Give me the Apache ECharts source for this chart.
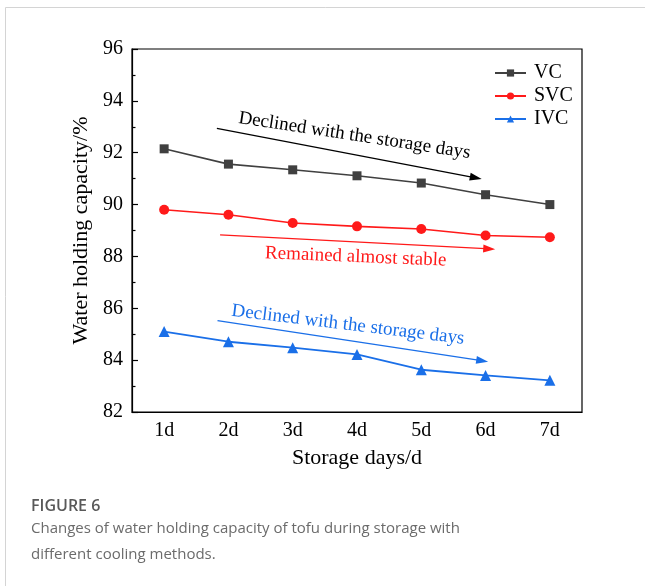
<!DOCTYPE html>
<html>
<head>
<meta charset="utf-8">
<script src="https://cdn.jsdelivr.net/npm/echarts@6/dist/echarts.min.js"></script>
<style>
  html, body { margin: 0; padding: 0; background: #fff; }
  #chart { width: 645px; height: 586px; }
</style>
</head>
<body>
<div id="chart"></div>
<script>
// Storage days on the x axis
const days = ['1d', '2d', '3d', '4d', '5d', '6d', '7d'];

// Water holding capacity (%) for each cooling method
const vcValues  = [92.15, 91.56, 91.34, 91.11, 90.83, 90.38, 90.00];
const svcValues = [89.80, 89.61, 89.29, 89.16, 89.06, 88.81, 88.74];
const ivcValues = [85.10, 84.71, 84.48, 84.22, 83.63, 83.41, 83.22];

// y axis range and step
const yMin = 82, yMax = 96, yStep = 2;

// Trend notes: arrow start/end in (day, %) units plus the text beside it
const notes = [
  { text: 'Declined with the storage days', color: '#000000',
    from: [1.82, 92.94], to: [5.94, 90.99], at: [3.96, 92.66] },
  { text: 'Remained almost stable', color: '#ff1a1a',
    from: [1.87, 88.83], to: [6.15, 88.28], at: [3.98, 87.98] },
  { text: 'Declined with the storage days', color: '#1a6fe8',
    from: [1.83, 85.52], to: [6.04, 83.94], at: [3.86, 85.36] }
];

const caption = {
  title: 'FIGURE 6',
  lines: ['Changes of water holding capacity of tofu during storage with',
          'different cooling methods.']
};

const serif = '"Liberation Serif", "Times New Roman", serif';
const colors = { VC: '#404040', SVC: '#ff1a1a', IVC: '#1a6fe8' };

const chart = echarts.init(document.getElementById('chart'), null, { renderer: 'canvas' });

chart.setOption({
  animation: false,
  backgroundColor: '#ffffff',
  grid: {
    left: 132, right: 63, top: 49, bottom: 174,
    show: true, borderColor: '#000', borderWidth: 1.2, backgroundColor: 'transparent'
  },
  legend: {
    orient: 'vertical',
    left: 489, top: 58,
    itemWidth: 31, itemHeight: 9, itemGap: 3,
    textStyle: { fontFamily: serif, fontSize: 20, color: '#000', padding: [0, 0, 0, 3] },
    data: ['VC', 'SVC', 'IVC']
  },
  xAxis: [
    {
      type: 'category', data: days, boundaryGap: true,
      axisLine: { lineStyle: { color: '#000', width: 1.2 } },
      axisTick: { alignWithLabel: true, inside: true, length: 6, lineStyle: { color: '#000', width: 1.2 } },
      axisLabel: { fontFamily: serif, fontSize: 20, color: '#000', margin: 9 },
      splitLine: { show: false },
      name: 'Storage days/d', nameLocation: 'middle', nameGap: 35,
      nameTextStyle: { fontFamily: serif, fontSize: 22, color: '#000' }
    },
    {
      // half-step ticks between the days
      type: 'category', data: days, boundaryGap: true, position: 'bottom',
      axisLine: { show: false },
      axisTick: { inside: true, length: 3.5, lineStyle: { color: '#000', width: 1.2 } },
      axisLabel: { show: false },
      splitLine: { show: false }
    },
    {
      // continuous day scale used to place the trend notes
      type: 'value', min: 0.5, max: 7.5, show: false, splitLine: { show: false }
    }
  ],
  yAxis: {
    type: 'value', min: yMin, max: yMax, interval: yStep,
    axisLine: { show: true, lineStyle: { color: '#000', width: 1.2 } },
    axisTick: { show: true, inside: true, length: 6, lineStyle: { color: '#000', width: 1.2 } },
    minorTick: { show: true, splitNumber: 2, length: 3.5, lineStyle: { color: '#000', width: 1.2 } },
    axisLabel: { fontFamily: serif, fontSize: 20, color: '#000', margin: 9 },
    splitLine: { show: false },
    name: 'Water holding capacity/%', nameLocation: 'middle', nameGap: 37,
    nameTextStyle: { fontFamily: serif, fontSize: 22, color: '#000' }
  },
  series: [
    {
      name: 'VC', type: 'line', data: vcValues, xAxisIndex: 0,
      symbol: 'rect', symbolSize: 9,
      lineStyle: { color: colors.VC, width: 1.6 },
      itemStyle: { color: colors.VC }
    },
    {
      name: 'SVC', type: 'line', data: svcValues, xAxisIndex: 0,
      symbol: 'circle', symbolSize: 10,
      lineStyle: { color: colors.SVC, width: 1.6 },
      itemStyle: { color: colors.SVC }
    },
    {
      name: 'IVC', type: 'line', data: ivcValues, xAxisIndex: 0,
      symbol: 'triangle', symbolSize: 11,
      lineStyle: { color: colors.IVC, width: 1.8 },
      itemStyle: { color: colors.IVC }
    }
  ]
});

// Place the trend notes and the figure caption once the axes exist
function px(pt) {
  return [
    chart.convertToPixel({ xAxisIndex: 2 }, pt[0]),
    chart.convertToPixel({ yAxisIndex: 0 }, pt[1])
  ];
}

const elements = [];

// page frame
elements.push({ type: 'line', shape: { x1: 5.5, y1: 7.5, x2: 645, y2: 7.5 },
  style: { stroke: '#d4d4d4', lineWidth: 1 }, silent: true });
elements.push({ type: 'line', shape: { x1: 5.5, y1: 7.5, x2: 5.5, y2: 586 },
  style: { stroke: '#d4d4d4', lineWidth: 1 }, silent: true });

notes.forEach(function (n) {
  const a = px(n.from), b = px(n.to), c = px(n.at);
  const ang = Math.atan2(b[1] - a[1], b[0] - a[0]);
  const headLen = 12, headHalf = 4;
  const ux = Math.cos(ang), uy = Math.sin(ang);
  const baseX = b[0] - ux * headLen, baseY = b[1] - uy * headLen;
  elements.push({ type: 'line', silent: true,
    shape: { x1: a[0], y1: a[1], x2: baseX + ux * 2, y2: baseY + uy * 2 },
    style: { stroke: n.color, lineWidth: 1.3 } });
  elements.push({ type: 'polygon', silent: true,
    shape: { points: [
      [b[0], b[1]],
      [baseX - uy * headHalf, baseY + ux * headHalf],
      [baseX + uy * headHalf, baseY - ux * headHalf]
    ] },
    style: { fill: n.color } });
  const textAng = ang * 0.8;
  elements.push({ type: 'text', silent: true,
    x: c[0], y: c[1], rotation: -textAng,
    style: { text: n.text, fontFamily: serif, fontSize: 19, fill: n.color,
             align: 'center', verticalAlign: 'middle' } });
});

const capFont = '"Open Sans", "Noto Sans", sans-serif';
elements.push({ type: 'text', silent: true, x: 31, y: 506,
  style: { text: caption.title, fontFamily: capFont, fontSize: 16, fontWeight: 600,
           fill: '#595959', align: 'left', verticalAlign: 'middle' } });
caption.lines.forEach(function (line, i) {
  elements.push({ type: 'text', silent: true, x: 31, y: 529 + i * 26,
    style: { text: line, fontFamily: capFont, fontSize: 15, fill: '#6b6b6b',
             align: 'left', verticalAlign: 'middle' } });
});

chart.setOption({ graphic: { elements: elements } });
</script>
</body>
</html>
